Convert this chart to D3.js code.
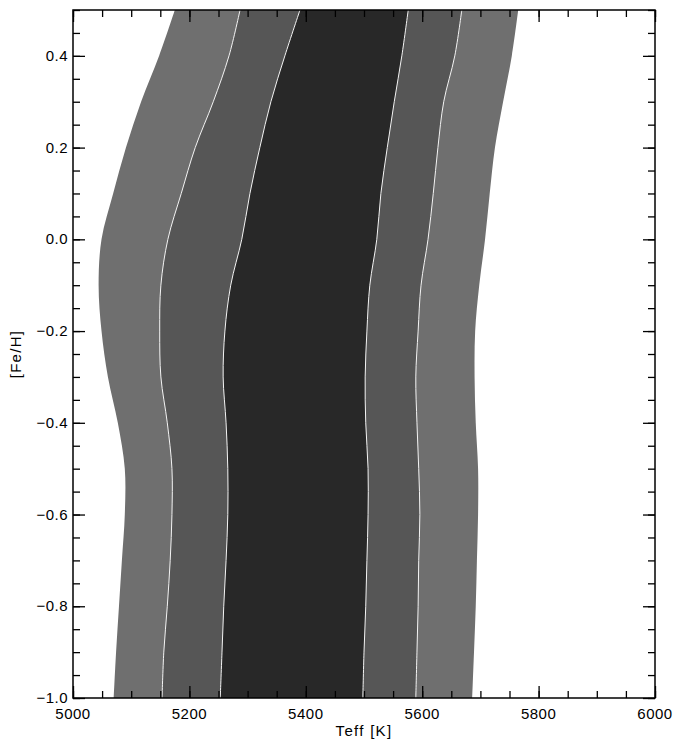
<!DOCTYPE html>
<html>
<head>
<meta charset="utf-8">
<script src="https://cdn.jsdelivr.net/npm/d3@7"></script>
<style>
  body { margin: 0; background: #fff; }
  text { font-family: "Liberation Sans", Arial, sans-serif; fill: #000; }
</style>
</head>
<body>
<div id="chart"></div>
<script>
// [Fe/H] grid the band edges were read at
var feh = [0.5, 0.4, 0.3, 0.2, 0.1, 0.0, -0.1, -0.2, -0.3, -0.4, -0.5, -0.6, -0.7, -0.8, -0.9, -1.0];

// Teff of each band edge (K), left to right
var outerLeft  = [5175, 5148, 5117, 5091, 5069, 5049, 5044, 5049, 5060, 5077, 5089, 5089, 5084, 5079, 5074, 5070];
var midLeft    = [5287, 5268, 5241, 5210, 5186, 5163, 5151, 5149, 5151, 5162, 5170, 5170, 5167, 5162, 5156, 5153];
var innerLeft  = [5390, 5364, 5340, 5321, 5304, 5290, 5271, 5261, 5258, 5263, 5266, 5266, 5263, 5259, 5256, 5253];
var innerRight = [5576, 5565, 5552, 5540, 5529, 5522, 5510, 5505, 5502, 5503, 5507, 5507, 5505, 5503, 5500, 5498];
var midRight   = [5668, 5656, 5637, 5627, 5619, 5610, 5598, 5593, 5589, 5591, 5594, 5596, 5594, 5593, 5591, 5589];
var outerRight = [5765, 5754, 5739, 5725, 5716, 5708, 5698, 5691, 5690, 5692, 5696, 5696, 5694, 5692, 5689, 5686];

// tick values
var xMajor = [5000, 5200, 5400, 5600, 5800, 6000];
var yMajor = [0.4, 0.2, 0.0, -0.2, -0.4, -0.6, -0.8, -1.0];

var svgWidth = 674;
var svgHeight = 740;
var margin = { top: 10, right: 19, bottom: 42, left: 73 };
var w = svgWidth - margin.left - margin.right;
var h = svgHeight - margin.top - margin.bottom;

var svg = d3.select("#chart")
  .append("svg")
  .attr("width", svgWidth)
  .attr("height", svgHeight);

var g = svg.append("g")
  .attr("transform", `translate(${margin.left}, ${margin.top})`);

var x = d3.scaleLinear().domain([5000, 6000]).range([0, w]);
var y = d3.scaleLinear().domain([-1.0, 0.5]).range([h, 0]);

g.append("clipPath").attr("id", "clip")
  .append("rect").attr("width", w).attr("height", h);

var plot = g.append("g").attr("clip-path", "url(#clip)");

var curve = d3.curveCatmullRom.alpha(0.5);

// build one band between two edges
function band(left, right) {
  return d3.area()
    .curve(curve)
    .y((d, i) => y(feh[i]))
    .x0((d, i) => x(left[i]))
    .x1((d, i) => x(right[i]))(feh);
}

function edge(vals) {
  return d3.line()
    .curve(curve)
    .y((d, i) => y(feh[i]))
    .x((d, i) => x(vals[i]))(feh);
}

plot.append("path").attr("d", band(outerLeft, outerRight)).attr("fill", "#6f6f6f");
plot.append("path").attr("d", band(midLeft, midRight)).attr("fill", "#565656");
plot.append("path").attr("d", band(innerLeft, innerRight)).attr("fill", "#282828");

[midLeft, innerLeft, innerRight, midRight].forEach(function(e) {
  plot.append("path")
    .attr("d", edge(e))
    .attr("fill", "none")
    .attr("stroke", "#f4f4f4")
    .attr("stroke-width", 1);
});

// axes with ticks pointing inward on all four sides
var xMinor = d3.range(5000, 6001, 50);
var yMinor = d3.range(-1.0, 0.5001, 0.05).map(v => +v.toFixed(2));

function ticks(axis, vals, len) {
  return axis.tickValues(vals).tickSizeInner(-len).tickSizeOuter(0).tickFormat("");
}

g.append("g").attr("transform", `translate(0, ${h})`).call(ticks(d3.axisBottom(x), xMinor, 7));
g.append("g").attr("transform", `translate(0, ${h})`).call(ticks(d3.axisBottom(x), xMajor, 12));
g.append("g").call(ticks(d3.axisTop(x), xMinor, 7));
g.append("g").call(ticks(d3.axisTop(x), xMajor, 12));
g.append("g").call(ticks(d3.axisLeft(y), yMinor, 7));
g.append("g").call(ticks(d3.axisLeft(y), yMajor, 12));
g.append("g").attr("transform", `translate(${w}, 0)`).call(ticks(d3.axisRight(y), yMinor, 7));
g.append("g").attr("transform", `translate(${w}, 0)`).call(ticks(d3.axisRight(y), yMajor, 12));

g.selectAll(".domain").remove();
g.selectAll(".tick line").attr("stroke", "#000").attr("stroke-width", 1.3);

g.append("rect")
  .attr("width", w)
  .attr("height", h)
  .attr("fill", "none")
  .attr("stroke", "#000")
  .attr("stroke-width", 1.5);

// tick labels
g.selectAll(".xlab")
  .data(xMajor)
  .enter()
  .append("text")
  .attr("x", d => x(d))
  .attr("y", h + 21)
  .attr("text-anchor", "middle")
  .style("font-size", "15px")
  .style("letter-spacing", "0.5px")
  .text(d => d);

g.selectAll(".ylab")
  .data(yMajor)
  .enter()
  .append("text")
  .attr("x", -5)
  .attr("y", d => y(d) + 5)
  .attr("text-anchor", "end")
  .style("font-size", "15px")
  .style("letter-spacing", "0.5px")
  .text(d => d3.format(".1f")(d));

g.append("text")
  .attr("x", w / 2)
  .attr("y", h + 38)
  .attr("text-anchor", "middle")
  .style("font-size", "15px")
  .style("letter-spacing", "1.3px")
  .text("Teff [K]");

g.append("text")
  .attr("transform", `translate(${-52}, ${h / 2}) rotate(-90)`)
  .attr("text-anchor", "middle")
  .style("font-size", "15px")
  .style("letter-spacing", "1.3px")
  .text("[Fe/H]");
</script>
</body>
</html>
